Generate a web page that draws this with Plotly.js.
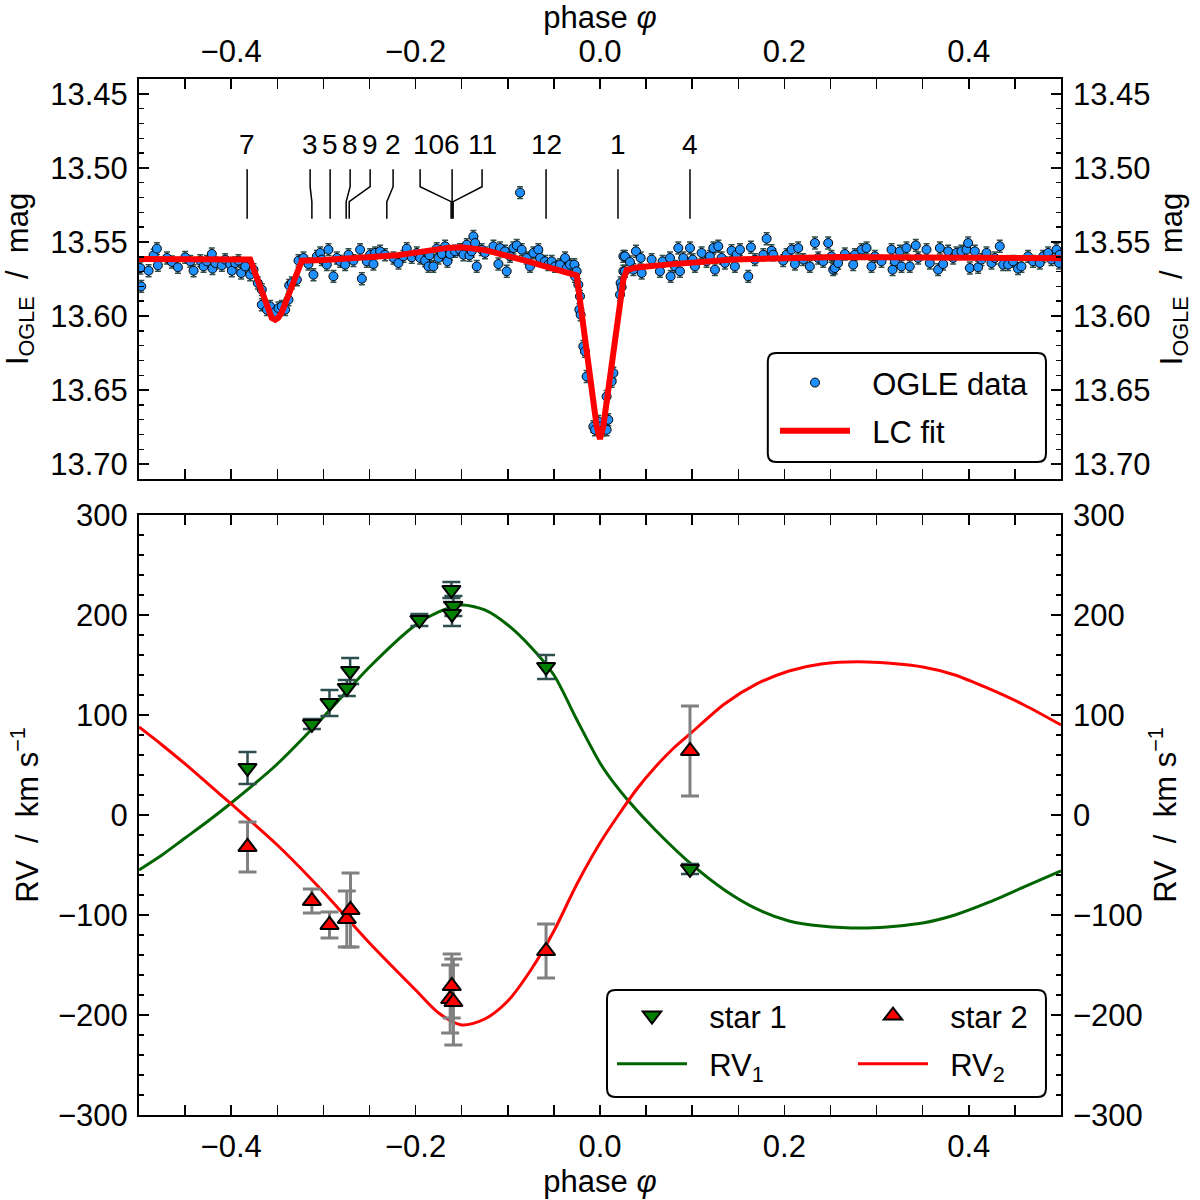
<!DOCTYPE html>
<html>
<head>
<meta charset="utf-8">
<script src="https://cdn.plot.ly/plotly-3.0.1.min.js"></script>
<style>
  body { margin: 0; background: white; }
  #plot { width: 1200px; height: 1200px; }
</style>
</head>
<body>
<div id="plot"></div>
<script>
// OGLE I-band light curve
var oglePhase = [
  -0.4986, -0.4976, -0.4896, -0.4842, -0.4806, -0.4795, -0.4697, -0.4643, -0.4578, -0.4499,
  -0.4444, -0.4408, -0.4336, -0.4300, -0.4264, -0.4210, -0.4203, -0.4173, -0.4101, -0.4065,
  -0.4011, -0.3993, -0.3957, -0.3921, -0.3892, -0.3848, -0.3794, -0.3758, -0.3711, -0.3668,
  -0.3668, -0.3613, -0.3577, -0.3523, -0.3487, -0.3451, -0.3415, -0.3379, -0.3371, -0.3342,
  -0.3288, -0.3270, -0.3216, -0.3162, -0.3108, -0.3071, -0.3035, -0.3017, -0.2963, -0.2945,
  -0.2891, -0.2854, -0.2818, -0.2764, -0.2728, -0.2674, -0.2602, -0.2583, -0.2529, -0.2493,
  -0.2457, -0.2439, -0.2385, -0.2331, -0.2240, -0.2186, -0.2132, -0.2096, -0.2042, -0.1987,
  -0.1951, -0.1897, -0.1861, -0.1850, -0.1807, -0.1771, -0.1752, -0.1716, -0.1680, -0.1655,
  -0.1626, -0.1572, -0.1518, -0.1481, -0.1445, -0.1416, -0.1391, -0.1373, -0.1355, -0.1337,
  -0.1283, -0.1247, -0.1156, -0.1102, -0.1084, -0.1030, -0.1012, -0.0976, -0.0939, -0.0903,
  -0.0867, -0.0849, -0.0795, -0.0759, -0.0723, -0.0669, -0.0650, -0.0596, -0.0560, -0.0524,
  -0.0488, -0.0434, -0.0379, -0.0361, -0.0325, -0.0278, -0.0271, -0.0253, -0.0235, -0.0224,
  -0.0217, -0.0210, -0.0181, -0.0163, -0.0145, -0.0072, -0.0054, -0.0018, 0.0000, 0.0036,
  0.0072, 0.0090, 0.0072, 0.0127, 0.0145, 0.0217, 0.0224, 0.0235, 0.0253, 0.0253,
  0.0271, 0.0271, 0.0325, 0.0361, 0.0390, 0.0441, 0.0452, 0.0560, 0.0650, 0.0679,
  0.0759, 0.0766, 0.0813, 0.0849, 0.0867, 0.0903, 0.0976, 0.1005, 0.1030, 0.1102,
  0.1156, 0.1192, 0.1229, 0.1247, 0.1283, 0.1319, 0.1355, 0.1427, 0.1463, 0.1481,
  0.1518, 0.1608, 0.1637, 0.1680, 0.1771, 0.1807, 0.1861, 0.1879, 0.1987, 0.2023,
  0.2078, 0.2114, 0.2150, 0.2204, 0.2276, 0.2331, 0.2367, 0.2421, 0.2475, 0.2511,
  0.2529, 0.2547, 0.2583, 0.2656, 0.2746, 0.2764, 0.2837, 0.2891, 0.2945, 0.2981,
  0.3053, 0.3162, 0.3173, 0.3198, 0.3252, 0.3270, 0.3324, 0.3360, 0.3425, 0.3451,
  0.3541, 0.3577, 0.3667, 0.3686, 0.3722, 0.3776, 0.3830, 0.3866, 0.3920, 0.3975,
  0.3993, 0.4011, 0.4065, 0.4101, 0.4137, 0.4192, 0.4246, 0.4282, 0.4336, 0.4372,
  0.4426, 0.4480, 0.4534, 0.4571, 0.4643, 0.4697, 0.4770, 0.4806, 0.4860, 0.4896,
  0.4951, 0.4979, 0.4986
];
var ogleMag = [
  13.5676, 13.5800, 13.5694, 13.5590, 13.5545, 13.5658, 13.5608, 13.5635, 13.5671, 13.5604,
  13.5631, 13.5694, 13.5626, 13.5665, 13.5631, 13.5581, 13.5680, 13.5642, 13.5658, 13.5619,
  13.5653, 13.5694, 13.5642, 13.5626, 13.5710, 13.5665, 13.5721, 13.5687, 13.5777, 13.5822,
  13.5924, 13.5957, 13.5935, 13.5973, 13.5946, 13.5935, 13.5957, 13.5890, 13.5793, 13.5777,
  13.5755, 13.5626, 13.5608, 13.5649, 13.5721, 13.5597, 13.5574, 13.5619, 13.5653, 13.5552,
  13.5732, 13.5608, 13.5631, 13.5653, 13.5586, 13.5626, 13.5552, 13.5748, 13.5631, 13.5586,
  13.5649, 13.5574, 13.5563, 13.5586, 13.5608, 13.5642, 13.5597, 13.5545, 13.5604, 13.5574,
  13.5608, 13.5626, 13.5665, 13.5590, 13.5665, 13.5545, 13.5608, 13.5581, 13.5529, 13.5631,
  13.5581, 13.5563, 13.5552, 13.5586, 13.5518, 13.5590, 13.5563, 13.5462, 13.5507, 13.5665,
  13.5552, 13.5574, 13.5529, 13.5649, 13.5541, 13.5563, 13.5698, 13.5597, 13.5541, 13.5523,
  13.5167, 13.5552, 13.5608, 13.5665, 13.5574, 13.5552, 13.5608, 13.5631, 13.5653, 13.5631,
  13.5665, 13.5653, 13.5608, 13.5676, 13.5653, 13.5653, 13.5732, 13.5698, 13.5788, 13.5957,
  13.5867, 13.5991, 13.6205, 13.6239, 13.6408, 13.6746, 13.6768, 13.6712, 13.6746, 13.6768,
  13.6768, 13.6700, 13.6543, 13.6441, 13.6385, 13.5856, 13.5777, 13.5804, 13.5597, 13.5698,
  13.5698, 13.5597, 13.5635, 13.5687, 13.5563, 13.5608, 13.5710, 13.5619, 13.5698, 13.5631,
  13.5608, 13.5732, 13.5665, 13.5541, 13.5698, 13.5608, 13.5541, 13.5619, 13.5665, 13.5574,
  13.5631, 13.5597, 13.5541, 13.5687, 13.5529, 13.5608, 13.5642, 13.5559, 13.5665, 13.5586,
  13.5552, 13.5732, 13.5536, 13.5619, 13.5586, 13.5478, 13.5559, 13.5586, 13.5626, 13.5586,
  13.5552, 13.5649, 13.5541, 13.5619, 13.5665, 13.5507, 13.5608, 13.5631, 13.5507, 13.5597,
  13.5687, 13.5676, 13.5642, 13.5581, 13.5653, 13.5586, 13.5552, 13.5541, 13.5665, 13.5597,
  13.5631, 13.5552, 13.5687, 13.5631, 13.5563, 13.5665, 13.5541, 13.5665, 13.5523, 13.5608,
  13.5552, 13.5642, 13.5687, 13.5541, 13.5649, 13.5563, 13.5608, 13.5574, 13.5563, 13.5552,
  13.5507, 13.5676, 13.5563, 13.5671, 13.5619, 13.5574, 13.5642, 13.5608, 13.5529, 13.5653,
  13.5653, 13.5631, 13.5680, 13.5665, 13.5597, 13.5631, 13.5642, 13.5597, 13.5574, 13.5619,
  13.5552, 13.5642, 13.5586
];
var ogleErr = 0.004;

// light-curve model
var fitPhase = [-0.5, -0.4, -0.3794, -0.3668, -0.3595, -0.356, -0.3523, -0.349, -0.3451, -0.3342,
  -0.3234, -0.30, -0.25, -0.22, -0.20, -0.18, -0.166, -0.15, -0.14, -0.13,
  -0.12, -0.11, -0.10, -0.09, -0.08, -0.07, -0.06, -0.05, -0.04, -0.0253,
  -0.0036, 0.0, 0.0036, 0.0253, 0.0289, 0.04, 0.0723, 0.1445, 0.20, 0.258,
  0.35, 0.50];
var fitMag = [13.5615, 13.5615, 13.5619, 13.5833, 13.5973, 13.6012, 13.6025, 13.6012, 13.5973, 13.5788,
  13.5626, 13.5622, 13.5606, 13.5590, 13.5572, 13.5552, 13.5540, 13.5536, 13.5540, 13.5550,
  13.5562, 13.5576, 13.5592, 13.5610, 13.5628, 13.5646, 13.5665, 13.5688, 13.5705, 13.5725,
  13.6745, 13.6830, 13.6745, 13.5755, 13.5690, 13.5672, 13.5653, 13.5619, 13.5610, 13.5601,
  13.5605, 13.5610];

// radial velocities
var star1Phase = [-0.3823, -0.3125, -0.2934, -0.2746, -0.2710, -0.1959, -0.1612, -0.1590, -0.1605, -0.0585, 0.0976];
var star1RV = [47, 91, 112, 127, 144, 195, 225, 209, 201, 148, -54];
var star1Err = [16, 5, 13, 8, 13, 6, 8, 10, 12, 12, 5];
var star2Phase = [-0.3823, -0.3125, -0.2934, -0.2746, -0.2706, -0.1608, -0.1625, -0.1590, -0.0585, 0.0976];
var star2RV = [-32, -86, -110, -104, -95, -171, -184, -187, -136, 64];
var star2Err = [25, 12, 13, 28, 37, 32, 34, 43, 27, 45];

// RV model curves
var rv1Phase = [-0.5, -0.475, -0.45, -0.425, -0.4, -0.38, -0.35, -0.3, -0.25, -0.2, -0.175, -0.15, -0.125,
  -0.1, -0.075, -0.05, -0.025, 0, 0.015, 0.03, 0.06, 0.1, 0.135, 0.17, 0.205, 0.24, 0.29, 0.35,
  0.385, 0.42, 0.46, 0.5];
var rv1Vel = [-55, -40, -23, -6, 12, 27, 51, 98, 148, 190, 203, 210, 205,
  190, 168, 140, 95, 52, 32, 15, -15, -50, -75, -94, -106, -111, -113, -108,
  -100, -88, -72, -56];
var rv2Phase = [-0.5, -0.475, -0.45, -0.425, -0.4, -0.35, -0.3, -0.25, -0.2, -0.175, -0.15, -0.125, -0.1,
  -0.075, -0.05, -0.025, 0, 0.02, 0.04, 0.06, 0.08, 0.1, 0.135, 0.17, 0.205, 0.24, 0.29, 0.35,
  0.385, 0.42, 0.46, 0.5];
var rv2Vel = [88, 70, 51, 31, 11, -30, -77, -128, -175, -198, -210, -204, -186,
  -155, -116, -69, -28, 0, 26, 48, 67, 83, 111, 131, 144, 151, 153, 148,
  140, 127, 110, 90];

// spectrum markers in the light-curve panel
var specLabel = ['7', '3', '5', '8', '9', '2', '10', '6', '11', '12', '1', '4'];
var specPhase = [-0.3827, -0.3125, -0.2927, -0.2753, -0.2720, -0.2312, -0.1615, -0.1604, -0.1593, -0.0585, 0.0195, 0.0976];
var labelPhase = [-0.3827, -0.3144, -0.2927, -0.2710, -0.2493, -0.2244, -0.1865, -0.1604, -0.1279, -0.0575, 0.0195, 0.0976];
var tickTopPhase = [-0.3827, -0.3144, -0.2927, -0.2710, -0.2493, -0.2244, -0.1951, -0.1604, -0.1279, -0.0585, 0.0195, 0.0976];

var FONT = 'Liberation Sans, Arial, Helvetica, sans-serif';
var FS = 31;
var PAD = '\u00A0\u00A0';

// kinked guide lines: vertical, slanted, vertical
var guideX = [], guideY = [];
for (var i = 0; i < specPhase.length; i++) {
  guideX.push(tickTopPhase[i], tickTopPhase[i], specPhase[i], specPhase[i], null);
  guideY.push(13.501, 13.5127, 13.5228, 13.5343, null);
}

var ogle = {
  x: oglePhase, y: ogleMag, xaxis: 'x', yaxis: 'y',
  type: 'scatter', mode: 'markers', name: PAD + 'OGLE data', legend: 'legend', legendgroup: 'a',
  marker: {color: '#1E90FF', size: 9, line: {color: 'black', width: 1}},
  error_y: {type: 'constant', value: ogleErr, color: '#2F4F4F', thickness: 1.5, width: 3}
};
var lcfit = {
  x: fitPhase, y: fitMag, xaxis: 'x', yaxis: 'y',
  type: 'scatter', mode: 'lines', name: PAD + 'LC fit', legend: 'legend', legendgroup: 'b',
  line: {color: '#FF0000', width: 6}
};
var guides = {
  x: guideX, y: guideY, xaxis: 'x', yaxis: 'y',
  type: 'scatter', mode: 'lines', showlegend: false, hoverinfo: 'skip',
  line: {color: 'black', width: 1.5}
};
var rv1 = {
  x: rv1Phase, y: rv1Vel, xaxis: 'x2', yaxis: 'y2',
  type: 'scatter', mode: 'lines', name: PAD + 'RV<sub>1</sub>', legend: 'legend2', legendrank: 2, legendgroup: 'c',
  line: {color: '#006400', width: 3, shape: 'spline', smoothing: 0.8}
};
var rv2 = {
  x: rv2Phase, y: rv2Vel, xaxis: 'x2', yaxis: 'y2',
  type: 'scatter', mode: 'lines', name: PAD + 'RV<sub>2</sub>', legend: 'legend3', legendrank: 2, legendgroup: 'd',
  line: {color: '#FF0000', width: 3, shape: 'spline', smoothing: 0.8}
};
var star1 = {
  x: star1Phase, y: star1RV, xaxis: 'x2', yaxis: 'y2',
  type: 'scatter', mode: 'markers', name: PAD + 'star 1', legend: 'legend2', legendrank: 1, legendgroup: 'e',
  marker: {symbol: 'triangle-down', color: '#008000', size: 16, line: {color: 'black', width: 2}},
  error_y: {type: 'data', array: star1Err, color: '#2F4F4F', thickness: 2.5, width: 9}
};
var star2 = {
  x: star2Phase, y: star2RV, xaxis: 'x2', yaxis: 'y2',
  type: 'scatter', mode: 'markers', name: PAD + 'star 2', legend: 'legend3', legendrank: 1, legendgroup: 'f',
  marker: {symbol: 'triangle-up', color: '#FF0000', size: 16, line: {color: 'black', width: 2}},
  error_y: {type: 'data', array: star2Err, color: '#808080', thickness: 3, width: 9}
};
// empty traces so the right-hand label axes get drawn
var rightTop = {x: [], y: [], xaxis: 'x', yaxis: 'y3', type: 'scatter', mode: 'markers', showlegend: false};
var rightBot = {x: [], y: [], xaxis: 'x2', yaxis: 'y4', type: 'scatter', mode: 'markers', showlegend: false};

var annotations = specLabel.map(function (t, i) {
  return {x: labelPhase[i], y: 13.4843, xref: 'x', yref: 'y', text: t, showarrow: false,
          font: {family: FONT, size: 28, color: 'black'}, xanchor: 'center', yanchor: 'middle'};
});

function roundBox(x0, x1, y0, y1) {
  var rx = 0.009, ry = 0.008;
  return 'M' + (x0 + rx) + ',' + y1 + ' L' + (x1 - rx) + ',' + y1 +
    ' Q' + x1 + ',' + y1 + ' ' + x1 + ',' + (y1 - ry) + ' L' + x1 + ',' + (y0 + ry) +
    ' Q' + x1 + ',' + y0 + ' ' + (x1 - rx) + ',' + y0 + ' L' + (x0 + rx) + ',' + y0 +
    ' Q' + x0 + ',' + y0 + ' ' + x0 + ',' + (y0 + ry) + ' L' + x0 + ',' + (y1 - ry) +
    ' Q' + x0 + ',' + y1 + ' ' + (x0 + rx) + ',' + y1 + ' Z';
}

var axBase = {
  showline: true, linewidth: 2, linecolor: 'black', mirror: 'allticks',
  ticks: 'inside', ticklen: 10, tickwidth: 1.5, tickcolor: 'black',
  showgrid: false, zeroline: false, ticklabelstandoff: 3,
  tickfont: {family: FONT, size: FS, color: 'black'}
};
function ax(extra) { return Object.assign({}, axBase, extra); }
var minorX = {dtick: 0.05, ticks: 'inside', ticklen: 5, tickwidth: 1.5, tickcolor: 'black'};

var topDom = [0.6139, 1], botDom = [0, 0.5792];
var ogleTitle = 'I<sub>OGLE</sub>  /  mag';
var rvTitle = 'RV  /  km s<sup>−1</sup>';
var legBase = {xanchor: 'left', yanchor: 'top', bgcolor: 'rgba(0,0,0,0)', borderwidth: 0,
  font: {family: FONT, size: FS}, itemwidth: 70, tracegroupgap: 5};

var layout = {
  width: 1200, height: 1200,
  margin: {l: 139, r: 139, t: 79, b: 85},
  paper_bgcolor: 'white', plot_bgcolor: 'white',
  font: {family: FONT, size: FS, color: 'black'},
  xaxis: ax({domain: [0, 1], anchor: 'y', side: 'top', range: [-0.5, 0.5], tick0: 0, dtick: 0.2,
    tickformat: '.1f', minor: minorX,
    title: {text: 'phase <i>φ</i>', font: {family: FONT, size: FS}, standoff: 5}}),
  yaxis: ax({domain: topDom, anchor: 'x', range: [13.71, 13.44], tick0: 13.45, dtick: 0.05,
    tickformat: '.2f', minor: {dtick: 0.01, ticks: 'inside', ticklen: 5, tickwidth: 1.5, tickcolor: 'black'},
    title: {text: ogleTitle, font: {family: FONT, size: FS}, standoff: 14}}),
  yaxis3: ax({overlaying: 'y', side: 'right', anchor: 'x', range: [13.71, 13.44], tick0: 13.45, dtick: 0.05,
    tickformat: '.2f', ticks: '', showline: false, mirror: false, ticklabelstandoff: 11,
    title: {text: ogleTitle, font: {family: FONT, size: FS}, standoff: 10}}),
  xaxis2: ax({domain: [0, 1], anchor: 'y2', side: 'bottom', range: [-0.5, 0.5], tick0: 0, dtick: 0.2,
    tickformat: '.1f', minor: minorX,
    title: {text: 'phase <i>φ</i>', font: {family: FONT, size: FS}, standoff: 0}}),
  yaxis2: ax({domain: botDom, anchor: 'x2', range: [-300, 300], tick0: 0, dtick: 100,
    minor: {dtick: 20, ticks: 'inside', ticklen: 5, tickwidth: 1.5, tickcolor: 'black'},
    title: {text: rvTitle, font: {family: FONT, size: FS}, standoff: 10}}),
  yaxis4: ax({overlaying: 'y2', side: 'right', anchor: 'x2', range: [-300, 300], tick0: 0, dtick: 100,
    ticks: '', showline: false, mirror: false, ticklabelstandoff: 11,
    title: {text: rvTitle, font: {family: FONT, size: FS}, standoff: 8}}),
  legend: Object.assign({}, legBase, {x: 0.6898, y: 0.7327}),
  legend2: Object.assign({}, legBase, {x: 0.5130, y: 0.1217}),
  legend3: Object.assign({}, legBase, {x: 0.7744, y: 0.1217}),
  shapes: [
    {type: 'path', xref: 'paper', yref: 'paper', path: roundBox(0.682, 0.9837, 0.6303, 0.7355),
     fillcolor: 'white', line: {color: 'black', width: 2}, layer: 'above'},
    {type: 'path', xref: 'paper', yref: 'paper', path: roundBox(0.5076, 0.9837, 0.0174, 0.1207),
     fillcolor: 'white', line: {color: 'black', width: 2}, layer: 'above'}
  ],
  annotations: annotations
};

Plotly.newPlot('plot', [ogle, guides, lcfit, rv1, rv2, star1, star2, rightTop, rightBot], layout,
  {displayModeBar: false, staticPlot: true});
</script>
</body>
</html>
